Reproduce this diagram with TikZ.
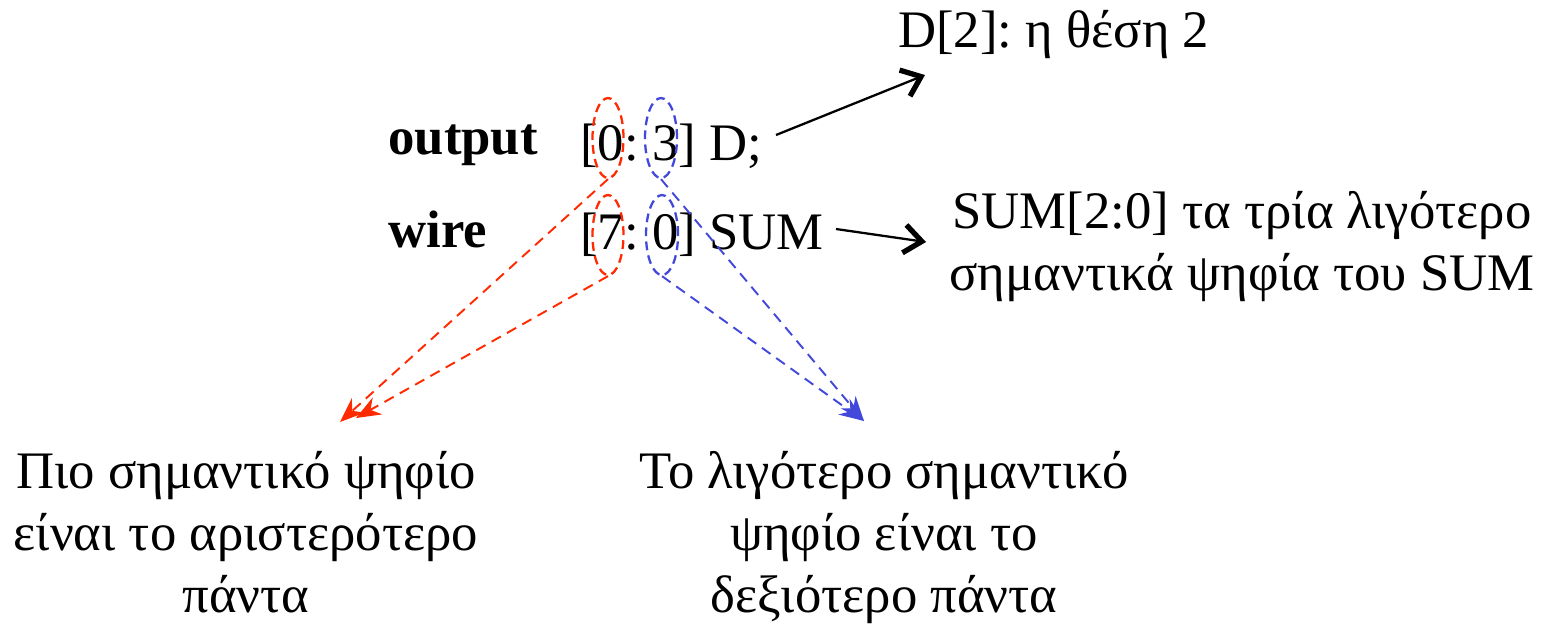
\documentclass[tikz,border=0pt]{standalone}
\usepackage{fontspec}
\setmainfont{Liberation Serif}
\frenchspacing
\usetikzlibrary{arrows.meta,shapes.geometric}
\definecolor{myred}{RGB}{255,42,0}
\definecolor{myblue}{RGB}{66,72,218}
\tikzset{
  txt/.style={inner sep=0pt,font=\fontsize{30}{35.5}\selectfont},
  mtxt/.style={txt,align=center,anchor=base,font=\fontsize{30}{62\dimexpr0.02cm\relax}\selectfont},
  redell/.style={ellipse,draw=myred,dashed,line width=1.3pt,minimum width=0.62cm,minimum height=1.6cm,inner sep=0pt,dash pattern=on 5pt off 3pt},
  blueell/.style={ellipse,draw=myblue,dashed,line width=1.3pt,minimum width=0.64cm,minimum height=1.6cm,inner sep=0pt,dash pattern=on 5pt off 3pt},
  redarr/.style={draw=myred,line width=1.1pt,dash pattern=on 6pt off 4pt,-{Stealth[length=14pt,width=11pt,fill=myred]}},
  bluearr/.style={draw=myblue,line width=1.1pt,dash pattern=on 6pt off 4pt,-{Stealth[length=14pt,width=11pt,fill=myblue]}},
  blkarr/.style={draw=black,line width=1.3pt,-{Straight Barb[length=10pt,width=16pt,line width=3pt]}}
}
\begin{document}
\begin{tikzpicture}[x=0.02cm,y=-0.02cm]
\useasboundingbox (0,0) rectangle (1555,627);
% top label
\node[txt,anchor=base west] (d2) at (898,47) {D[2]: η θέση 2};
% code lines
\node[txt,anchor=base west,font=\fontsize{30}{35.5}\selectfont\bfseries] (out) at (388,154) {output};
\node[txt,anchor=base west] (decl1) at (580,160) {[0: 3] D;};
\node[txt,anchor=base west,font=\fontsize{30}{35.5}\selectfont\bfseries] (wire) at (388,247) {wire};
\node[txt,anchor=base west] (decl2) at (580,249) {[7: 0] SUM};
% right label (anchor at last baseline)
\node[mtxt] (sumlbl) at (1242,290) {SUM[2:0] τα τρία λιγότερο\\σημαντικά ψηφία του SUM};
% bottom labels
\node[mtxt] (msb) at (246,612) {Πιο σημαντικό ψηφίο\\είναι το αριστερότερο\\πάντα};
\node[mtxt] (lsb) at (884,612) {Το λιγότερο σημαντικό\\ψηφίο είναι το\\δεξιότερο πάντα};
% ellipses
\node[redell] (r1) at (608,138) {};
\node[blueell] (b1) at (661,138) {};
\node[redell] (r2) at (608,235) {};
\node[blueell] (b2) at (662,235) {};
% arrow endpoints
\coordinate (rt1) at (340,422);
\coordinate (rt2) at (356,418);
\coordinate (bt) at (864,421);
\coordinate (d1s) at (776,135);
\coordinate (d1e) at (925,75);
\coordinate (s1s) at (836,229);
\coordinate (s1e) at (926,242);
% connectors
\draw[redarr] (r1.south) -- (rt1);
\draw[redarr] (r2.south) -- (rt2);
\draw[bluearr] (b1.south) -- (bt);
\draw[bluearr] (b2.south) -- (bt);
\draw[blkarr] (d1s) -- (d1e);
\draw[blkarr] (s1s) -- (s1e);
\end{tikzpicture}
\end{document}
